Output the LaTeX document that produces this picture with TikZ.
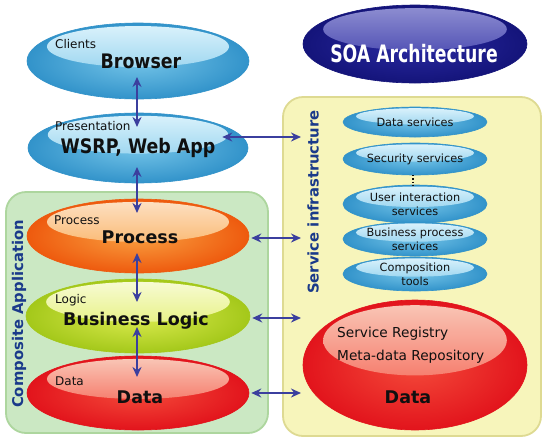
\documentclass[tikz,border=0pt]{standalone}
\usepackage{fontspec}
\setmainfont{DejaVu Sans}
\newfontfamily\condfont[FakeStretch=0.87]{DejaVu Sans}
\newfontfamily\soafont[FakeStretch=0.72]{DejaVu Sans}
\usetikzlibrary{shapes.geometric,arrows.meta,calc}
\definecolor{blueDark}{HTML}{3293CA}
\definecolor{blueMid}{HTML}{74C4E8}
\definecolor{blueLight}{HTML}{DDF3FC}
\definecolor{orangeDark}{HTML}{EE5A0E}
\definecolor{orangeMid}{HTML}{F9A040}
\definecolor{orangeLight}{HTML}{FDE2C6}
\definecolor{greenDark}{HTML}{A4C81A}
\definecolor{greenMid}{HTML}{DCEC50}
\definecolor{greenLight}{HTML}{F8FBD8}
\definecolor{redDark}{HTML}{E2141C}
\definecolor{redMid}{HTML}{F44A3A}
\definecolor{redLight}{HTML}{F9CABA}
\definecolor{navyDark}{HTML}{14147A}
\definecolor{navyMid}{HTML}{2A2AA2}
\definecolor{navyLight}{HTML}{9090D2}
\definecolor{arrowc}{HTML}{3B3F9E}
\definecolor{titlec}{HTML}{1A3A8A}
\definecolor{txt}{HTML}{101010}
\definecolor{greenBoxFill}{HTML}{CBE8C3}
\definecolor{greenBoxLine}{HTML}{ADD69E}
\definecolor{yellowBoxFill}{HTML}{F7F5BB}
\definecolor{yellowBoxLine}{HTML}{DEDA92}
\tikzset{
  glossy/.style n args={3}{ellipse, draw=#1, line width=0.6pt, inner sep=0pt,
    inner color=#2, outer color=#1,
    path picture={
      \shade[top color=#3, bottom color=#2]
        let \p1=(path picture bounding box.north east),
            \p2=(path picture bounding box.south west) in
        ($(path picture bounding box.center)!0.38!(path picture bounding box.north)$)
        ellipse ({0.41*(\x1-\x2)} and {0.27*(\y1-\y2)});
    }},
  bluegloss/.style={glossy={blueDark}{blueMid}{blueLight}},
  panel/.style={rounded corners=20pt, line width=1.8pt},
  biglab/.style={font=\condfont\bfseries\fontsize{20}{24}\selectfont, text=txt, inner sep=0pt, anchor=base},
  midlab/.style={font=\bfseries\fontsize{17.5}{21}\selectfont, text=txt, inner sep=0pt, anchor=base},
  smalllab/.style={font=\fontsize{12}{14}\selectfont, text=txt, inner sep=0pt, anchor=base west},
  svclab/.style={font=\fontsize{11.3}{14}\selectfont, text=txt, align=center},
  reglab/.style={font=\fontsize{13.7}{16}\selectfont, text=txt, inner sep=0pt, anchor=base west},
  sidelab/.style={font=\bfseries\fontsize{14.8}{17}\selectfont, text=titlec, inner sep=0pt, rotate=90},
  arr/.style={draw=arrowc, line width=2pt, {Stealth[length=10pt,width=9pt]}-{Stealth[length=10pt,width=9pt]}}
}
\begin{document}
\begin{tikzpicture}[x=1pt,y=-1pt]
\useasboundingbox (0,0) rectangle (550,448);
\fill[white] (0,0) rectangle (550,448);

% panels
\draw[panel, fill=greenBoxFill, draw=greenBoxLine] (6,192) rectangle (268,433);
\node[draw=none, inner sep=0pt] (composite) at (137,312) {};
\draw[panel, fill=yellowBoxFill, draw=yellowBoxLine] (283,97) rectangle (541,436);
\node[draw=none, inner sep=0pt] (infra) at (412,266) {};

% side titles
\node[sidelab] (compT) at (19,314) {Composite Application};
\node[sidelab] (infraT) at (313,202) {Service infrastructure};

% title
\node[glossy={navyDark}{navyMid}{navyLight}, minimum width=224pt, minimum height=78pt] (SOA) at (415,44) {};
\node[font=\soafont\bfseries\fontsize{24}{28}\selectfont, text=white, inner sep=0pt, anchor=base] (SOAT) at (414,62) {SOA Architecture};

% left stack
\node[bluegloss, minimum width=222pt, minimum height=76pt] (Browser) at (138,61) {};
\node[bluegloss, minimum width=220pt, minimum height=70pt] (WSRP) at (138,148) {};
\node[glossy={orangeDark}{orangeMid}{orangeLight}, minimum width=222pt, minimum height=74pt] (Process) at (138,236) {};
\node[glossy={greenDark}{greenMid}{greenLight}, minimum width=224pt, minimum height=74pt] (Logic) at (138,316) {};
\node[glossy={redDark}{redMid}{redLight}, minimum width=222pt, minimum height=74pt] (Data) at (138,393) {};

\node[smalllab] (ClientsL) at (55,48) {Clients};
\node[biglab] (BrowserT) at (141,68) {Browser};
\node[smalllab] (PresL) at (55,130) {Presentation};
\node[biglab] (WSRPT) at (138,153) {WSRP, Web App};
\node[smalllab] (ProcL) at (54,224) {Process};
\node[midlab] (ProcT) at (140,243) {Process};
\node[smalllab] (LogicL) at (55,303) {Logic};
\node[midlab] (LogicT) at (136,325) {Business Logic};
\node[smalllab] (DataL) at (55,385) {Data};
\node[midlab] (DataT) at (140,403) {Data};

% services
\node[bluegloss, svclab, minimum width=144pt, minimum height=30pt] (DataSvc) at (415,122) {Data services};
\node[bluegloss, svclab, minimum width=144pt, minimum height=32pt] (SecSvc) at (415,159) {Security services};
\node[bluegloss, svclab, minimum width=144pt, minimum height=38pt] (UserSvc) at (415,204) {User interaction\\services};
\node[bluegloss, svclab, minimum width=144pt, minimum height=34pt] (BPSvc) at (415,239) {Business process\\services};
\node[bluegloss, svclab, minimum width=144pt, minimum height=34pt] (CompSvc) at (415,274) {Composition\\tools};
\draw[dotted, line width=1.1pt, txt] ($(SecSvc.south)+(-2,0)$) -- ($(UserSvc.north)+(-2,0)$);

% repository
\node[glossy={redDark}{redMid}{redLight}, minimum width=224pt, minimum height=130pt] (RData) at (415,365) {};
\node[reglab] (RegT) at (337,337) {Service Registry};
\node[reglab] (MetaT) at (337,360) {Meta-data Repository};
\node[midlab] (RDataT) at (408,403) {Data};

% vertical arrows
\draw[arr] ($(Browser.center)+(-1,16)$) -- ($(WSRP.center)+(-1,-21)$);
\draw[arr] ($(WSRP.center)+(-1,19)$) -- ($(Process.center)+(-1,-23)$);
\draw[arr] ($(Process.center)+(-1,17)$) -- ($(Logic.center)+(-1,-14)$);
\draw[arr] ($(Logic.center)+(-1,11)$) -- ($(Data.center)+(-1,-16)$);

% horizontal arrows
\coordinate (tipR) at (301,0);
\coordinate (wsrpE) at ($(WSRP.east)+(-26,-11)$);
\coordinate (procE) at ($(Process.east)+(2,2)$);
\coordinate (logicE) at ($(Logic.east)+(2,2)$);
\coordinate (dataE) at ($(Data.east)+(2,0)$);
\draw[arr] (wsrpE) -- (wsrpE -| tipR);
\draw[arr] (procE) -- (procE -| tipR);
\draw[arr] (logicE) -- (logicE -| tipR);
\draw[arr] (dataE) -- (dataE -| tipR);
\end{tikzpicture}
\end{document}
